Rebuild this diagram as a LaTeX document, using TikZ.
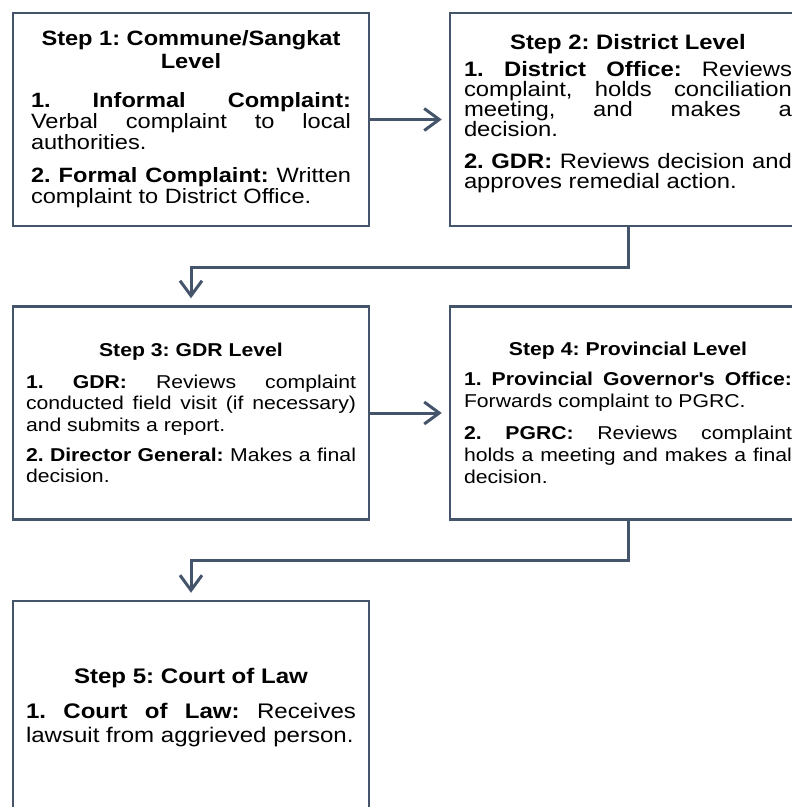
\documentclass[tikz,border=0pt]{standalone}
\usepackage{fontspec}
\setmainfont{Liberation Sans}[FakeStretch=1.14]
\usetikzlibrary{arrows.meta}
\definecolor{slate}{HTML}{44546A}
\newcommand{\stepfont}[2]{\fontsize{#1}{#2}\selectfont\hyphenpenalty=10000\frenchspacing}
\newcommand{\steptitle}[1]{{\centering\bfseries #1\par}}
\newcommand{\stepgap}[1]{\par\vspace{#1}}
\tikzset{
stepbox/.style={draw=slate, line width=2.5pt, minimum width=356pt, minimum height=213pt,
  inner sep=0pt, align=justify, text width=#1},
flow/.style={draw=slate, line width=3pt, -{Straight Barb[length=15pt,width=22pt]}, shorten >=7pt}
}

\begin{document}
\begin{tikzpicture}[x=1pt, y=-1pt]
\useasboundingbox (0,0) rectangle (792,807);
\clip (0,0) rectangle (792,807);

\node[stepbox=320pt, font=\stepfont{20.7}{21}] (s1) at (191,119.5) {\steptitle{Step 1: Commune/Sangkat\\[2pt]Level}\stepgap{18pt}
\textbf{1. Informal Complaint:}\linebreak Verbal complaint to local\linebreak authorities.\stepgap{12pt}
\textbf{2. Formal Complaint:} Written\linebreak complaint to District Office.};

\node[stepbox=328pt, font=\stepfont{20.9}{20}] (s2) at (628,119.5) {\steptitle{Step 2: District Level}\stepgap{7pt}
\textbf{1. District Office:} Reviews\linebreak complaint, holds conciliation\linebreak meeting, and makes a\linebreak decision.\stepgap{12pt}
\textbf{2. GDR:} Reviews decision and\linebreak approves remedial action.\par\vspace{-4pt}\mbox{}};

\node[stepbox=330pt, font=\stepfont{18.6}{21.7}] (s3) at (191,413) {\steptitle{Step 3: GDR Level}\stepgap{10pt}
\textbf{1. GDR:} Reviews complaint\linebreak conducted field visit (if necessary)\linebreak and submits a report.\stepgap{8pt}
\textbf{2. Director General:} Makes a final\linebreak decision.};

\node[stepbox=328pt, font=\stepfont{18.6}{22}] (s4) at (628,413) {\steptitle{Step 4: Provincial Level}\stepgap{8pt}
\textbf{1. Provincial Governor\textquotesingle s Office:}\linebreak Forwards complaint to PGRC.\stepgap{10pt}
\textbf{2. PGRC:} Reviews complaint\linebreak holds a meeting and makes a final\linebreak decision.};

\node[stepbox=330pt, font=\stepfont{21.1}{23.5}] (s5) at (191,707.5) {\steptitle{Step 5: Court of Law}\stepgap{12pt}
\textbf{1. Court of Law:} Receives\linebreak lawsuit from aggrieved person.};

\draw[flow] (s1) -- (s2);
\draw[flow] (s2.south) -- ++(0,40) -| (s3.north);
\draw[flow] (s3) -- (s4);
\draw[flow] (s4.south) -- ++(0,40) -| (s5.north);
\end{tikzpicture}
\end{document}
